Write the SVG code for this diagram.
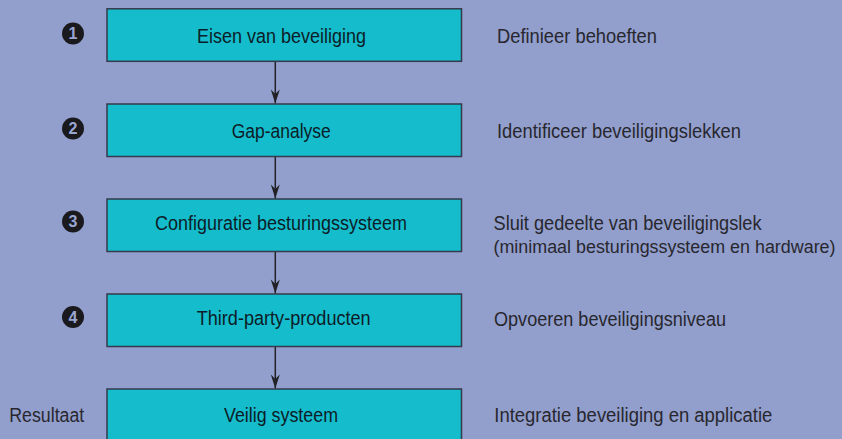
<svg xmlns="http://www.w3.org/2000/svg" width="842" height="439" viewBox="0 0 842 439">
  <style>
    .box { fill: #15bccb; stroke: #363a4c; stroke-width: 1.5; }
    .btxt { font-family: "Liberation Sans", Arial, sans-serif; font-size: 20px; fill: #0c1c28; }
    .side { font-family: "Liberation Sans", Arial, sans-serif; font-size: 20px; fill: #28272f; }
    .num { fill: #1a1a1e; }
    .numtxt { font-family: "Liberation Sans", Arial, sans-serif; font-size: 16px; font-weight: bold; fill: #9aa6d2; text-anchor: middle; }
    .conn { stroke: #222226; stroke-width: 1.5; fill: none; marker-end: url(#arrow); }
  </style>
  <defs>
    <marker id="arrow" markerUnits="userSpaceOnUse" viewBox="-15 -6 16 12" refX="0" refY="0" markerWidth="16" markerHeight="12" orient="auto">
      <path d="M0,0 L-14,-4.5 L-9.5,0 L-14,4.5 Z" fill="#222226"/>
    </marker>
  </defs>

  <rect width="842" height="439" fill="#929fcc"/>

  <g id="connectors">
    <line class="conn" x1="275.3" y1="61.5" x2="275.3" y2="103.5"/>
    <line class="conn" x1="275.3" y1="156.5" x2="275.3" y2="198.5"/>
    <line class="conn" x1="275.3" y1="251.5" x2="275.3" y2="293.5"/>
    <line class="conn" x1="275.3" y1="346.5" x2="275.3" y2="388.5"/>
  </g>

  <g id="step1">
    <circle class="num" cx="73" cy="33.5" r="11"/>
    <text class="numtxt" x="73" y="39.3">1</text>
    <rect class="box" x="107" y="8.8" width="354.5" height="52.5"/>
    <text class="btxt" x="197" y="43" textLength="169" lengthAdjust="spacingAndGlyphs">Eisen van beveiliging</text>
    <text class="side" x="497" y="42.7" textLength="160" lengthAdjust="spacingAndGlyphs">Definieer behoeften</text>
  </g>

  <g id="step2">
    <circle class="num" cx="73" cy="128.5" r="11"/>
    <text class="numtxt" x="73" y="134.3">2</text>
    <rect class="box" x="107" y="104" width="354.5" height="52.5"/>
    <text class="btxt" x="231.7" y="138.3" textLength="99" lengthAdjust="spacingAndGlyphs">Gap-analyse</text>
    <text class="side" x="497" y="137.5" textLength="244" lengthAdjust="spacingAndGlyphs">Identificeer beveiligingslekken</text>
  </g>

  <g id="step3">
    <circle class="num" cx="73" cy="221.5" r="11"/>
    <text class="numtxt" x="73" y="227.3">3</text>
    <rect class="box" x="107" y="199" width="354.5" height="52.5"/>
    <text class="btxt" x="155" y="230" textLength="252" lengthAdjust="spacingAndGlyphs">Configuratie besturingssysteem</text>
    <text class="side" x="493.5" y="230" textLength="268" lengthAdjust="spacingAndGlyphs">Sluit gedeelte van beveiligingslek</text>
    <text class="side" x="493.5" y="252.7" style="font-size:17.5px" textLength="342" lengthAdjust="spacingAndGlyphs">(minimaal besturingssysteem en hardware)</text>
  </g>

  <g id="step4">
    <circle class="num" cx="73" cy="317" r="11"/>
    <text class="numtxt" x="73" y="322.8">4</text>
    <rect class="box" x="107" y="294" width="354.5" height="52.5"/>
    <text class="btxt" x="196.7" y="325" textLength="174" lengthAdjust="spacingAndGlyphs">Third-party-producten</text>
    <text class="side" x="494" y="325.7" textLength="232" lengthAdjust="spacingAndGlyphs">Opvoeren beveiligingsniveau</text>
  </g>

  <g id="result">
    <text class="side" x="9.3" y="421.5" textLength="75" lengthAdjust="spacingAndGlyphs">Resultaat</text>
    <rect class="box" x="107" y="389" width="354.5" height="60"/>
    <text class="btxt" x="224" y="421.7" textLength="114" lengthAdjust="spacingAndGlyphs">Veilig systeem</text>
    <text class="side" x="494.3" y="421.7" textLength="278" lengthAdjust="spacingAndGlyphs">Integratie beveiliging en applicatie</text>
  </g>
</svg>
